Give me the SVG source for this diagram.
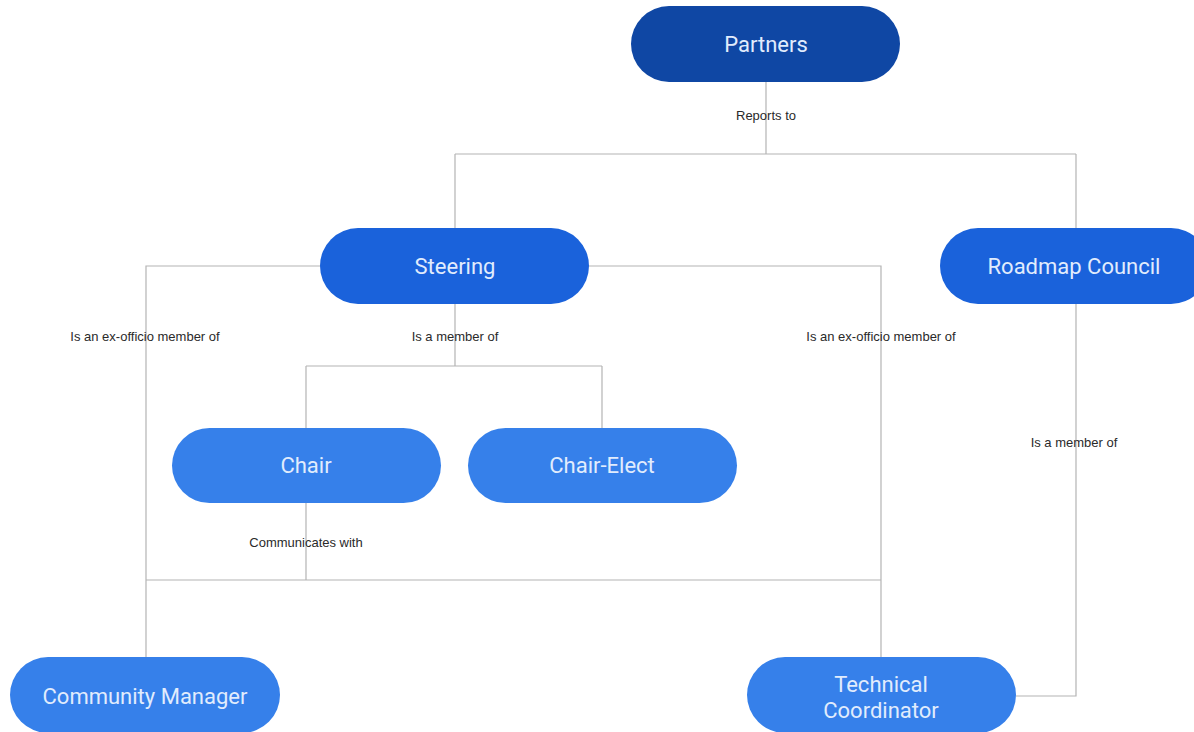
<svg xmlns="http://www.w3.org/2000/svg" width="1194" height="732" viewBox="0 0 1194 732">
<style>
.n{font-family:Roboto,"Liberation Sans",sans-serif;font-size:22px;fill:#e1ecfd;text-anchor:middle;dominant-baseline:central}
.l{font-family:"Liberation Sans",Arial,sans-serif;font-size:13px;fill:#2a2a2a;text-anchor:middle;dominant-baseline:central}
.c{fill:none;stroke:#b4b4b4;stroke-width:1.2}
.d1{fill:#0f47a4}
.d2{fill:#1a62db}
.d3{fill:#3680ea}
</style>
<rect width="1194" height="732" fill="#fff"/>
<g id="connectors">
<path class="c" d="M766 82V154M455 154H1076M455 154V228M1076 154V228"/>
<path class="c" d="M320 266H146V657M589 266H881V657"/>
<path class="c" d="M455 304V366M306 366H602M306 366V428M602 366V428"/>
<path class="c" d="M306 503V580M146 580H881"/>
<path class="c" d="M1076 304V696H1016"/>
</g>
<g id="labels">
<text class="l" x="766" y="115">Reports to</text>
<text class="l" x="145" y="336">Is an ex-officio member of</text>
<text class="l" x="455" y="336">Is a member of</text>
<text class="l" x="881" y="336">Is an ex-officio member of</text>
<text class="l" x="1074" y="442">Is a member of</text>
<text class="l" x="306" y="542">Communicates with</text>
</g>
<g id="partners"><rect class="d1" x="631" y="6" width="269" height="76" rx="38"/><text class="n" x="766" y="44">Partners</text></g>
<g id="steering"><rect class="d2" x="320" y="228" width="269" height="76" rx="38"/><text class="n" x="455" y="266">Steering</text></g>
<g id="roadmap-council"><rect class="d2" x="940" y="228" width="269" height="76" rx="38"/><text class="n" x="1074" y="266">Roadmap Council</text></g>
<g id="chair"><rect class="d3" x="172" y="428" width="269" height="75" rx="37.5"/><text class="n" x="306" y="465">Chair</text></g>
<g id="chair-elect"><rect class="d3" x="468" y="428" width="269" height="75" rx="37.5"/><text class="n" x="602" y="465">Chair-Elect</text></g>
<g id="community-manager"><rect class="d3" x="10" y="657" width="270" height="76" rx="38"/><text class="n" x="145" y="696">Community Manager</text></g>
<g id="technical-coordinator"><rect class="d3" x="747" y="657" width="269" height="76" rx="38"/><text class="n" x="881" y="684">Technical</text><text class="n" x="881" y="710">Coordinator</text></g>
</svg>
